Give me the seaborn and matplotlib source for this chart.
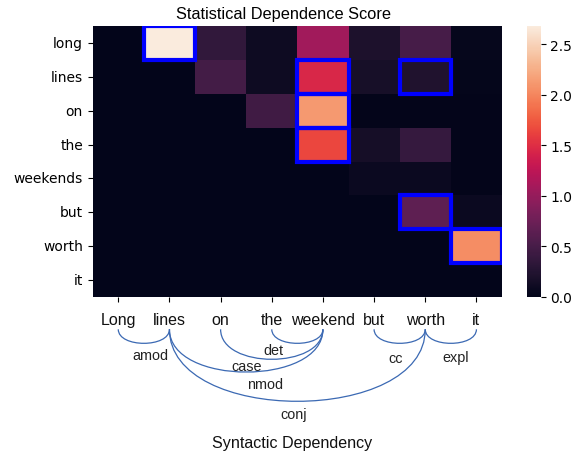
import numpy as np
import pandas as pd
import matplotlib
matplotlib.use("Agg")
import matplotlib.pyplot as plt
from matplotlib.path import Path
from matplotlib.patches import PathPatch, Rectangle
import seaborn as sns

# ---------------- data ----------------
row_tokens = ["long", "lines", "on", "the", "weekends", "but", "worth", "it"]
col_tokens = ["Long", "lines", "on", "the", "weekend", "but", "worth", "it"]

row_long     = [0.00, 2.68, 0.35, 0.10, 1.07, 0.20, 0.50, 0.04]
row_lines    = [0.00, 0.00, 0.48, 0.10, 1.45, 0.16, 0.22, 0.03]
row_on       = [0.00, 0.00, 0.00, 0.46, 2.12, 0.02, 0.02, 0.02]
row_the      = [0.00, 0.00, 0.00, 0.00, 1.65, 0.15, 0.38, 0.02]
row_weekends = [0.00, 0.00, 0.00, 0.00, 0.00, 0.08, 0.08, 0.02]
row_but      = [0.00, 0.00, 0.00, 0.00, 0.00, 0.00, 0.65, 0.08]
row_worth    = [0.00, 0.00, 0.00, 0.00, 0.00, 0.00, 0.00, 2.05]
row_it       = [0.00, 0.00, 0.00, 0.00, 0.00, 0.00, 0.00, 0.00]

# highlighted (row, col) cells
box_rows = [0, 1, 1, 2, 3, 5, 6]
box_cols = [1, 4, 6, 4, 4, 6, 7]

# syntactic dependencies: head index, dependent index, relation
dep_head = [1, 4, 4, 1, 6, 6, 1]
dep_dep  = [0, 3, 2, 4, 5, 7, 6]
dep_rel  = ["amod", "det", "case", "nmod", "cc", "expl", "conj"]

df = pd.DataFrame([row_long, row_lines, row_on, row_the, row_weekends,
                   row_but, row_worth, row_it],
                  index=row_tokens, columns=col_tokens)

# ---------------- layout ----------------
W, H = 580, 452
fig = plt.figure(figsize=(W / 100, H / 100), dpi=100)

hm_left, hm_right, hm_top, hm_bot = 92.7, 502.0, 27.3, 297.8
ax = fig.add_axes([hm_left / W, 1 - hm_bot / H,
                   (hm_right - hm_left) / W, (hm_bot - hm_top) / H])
cax = fig.add_axes([527.3 / W, 1 - hm_bot / H, 13.4 / W, (hm_bot - hm_top) / H])

sns.heatmap(df, ax=ax, cbar_ax=cax, cmap="rocket", vmin=0, vmax=2.68,
            xticklabels=True, yticklabels=True)
ax.set_xticklabels([""] * len(col_tokens))
ax.set_yticklabels(row_tokens, rotation=0, fontsize=10, family="DejaVu Sans")
ax.tick_params(axis="both", length=3.5, width=0.8)
cax.set_yticks([0, 0.5, 1.0, 1.5, 2.0, 2.5])
cax.tick_params(labelsize=10, length=3.5, width=0.8)
ax.set_xlabel("")
ax.set_ylabel("")

for r, c in zip(box_rows, box_cols):
    ax.add_patch(Rectangle((c, r), 1, 1, fill=False, edgecolor="#0000ff",
                           linewidth=3.0, zorder=5))

fig.text(284 / W, 1 - 18.5 / H, "Statistical Dependence Score",
         ha="center", va="baseline", fontsize=11.8, family="Liberation Sans")

# ---------------- dependency arcs ----------------
ax2 = fig.add_axes([hm_left / W, 0, (hm_right - hm_left) / W, (H - hm_bot) / H])
ax2.set_xlim(0, len(col_tokens))
ax2.set_ylim(H - hm_bot, 0)
ax2.axis("off")

arc_color = "#3b69b3"
word_base = 27.2
arc_start = 32.5
for i, w in enumerate(col_tokens):
    ax2.text(i + 0.5, word_base, w, ha="center", va="baseline",
             fontsize=11.5, family="Liberation Sans", color="#111111")

ctrl_depth = {"amod": 18.7, "det": 18.7, "cc": 18.7, "expl": 18.7,
              "case": 40.0, "nmod": 57.0, "conj": 96.0}
label_pos = {"amod": (1.12, 62), "det": (3.53, 57), "case": (3.00, 73),
             "nmod": (3.37, 91), "cc": (5.93, 65), "expl": (7.10, 64),
             "conj": (3.93, 121)}

for h, d, rel in zip(dep_head, dep_dep, dep_rel):
    x1, x2 = d + 0.5, h + 0.5
    dd = ctrl_depth[rel]
    verts = [(x1, arc_start), (x1, arc_start + dd),
             (x2, arc_start + dd), (x2, arc_start)]
    path = Path(verts, [Path.MOVETO, Path.CURVE4, Path.CURVE4, Path.CURVE4])
    ax2.add_patch(PathPatch(path, fill=False, edgecolor=arc_color,
                            linewidth=0.9))
    lx, ly = label_pos[rel]
    ax2.text(lx, ly, rel, ha="center", va="baseline", fontsize=10.4,
             family="Liberation Sans", color="#222222")

ax2.text(3.905, 150, "Syntactic Dependency", ha="center", va="baseline",
         fontsize=11.6, family="Liberation Sans", color="#111111")

fig.savefig("out.png", dpi=100)
